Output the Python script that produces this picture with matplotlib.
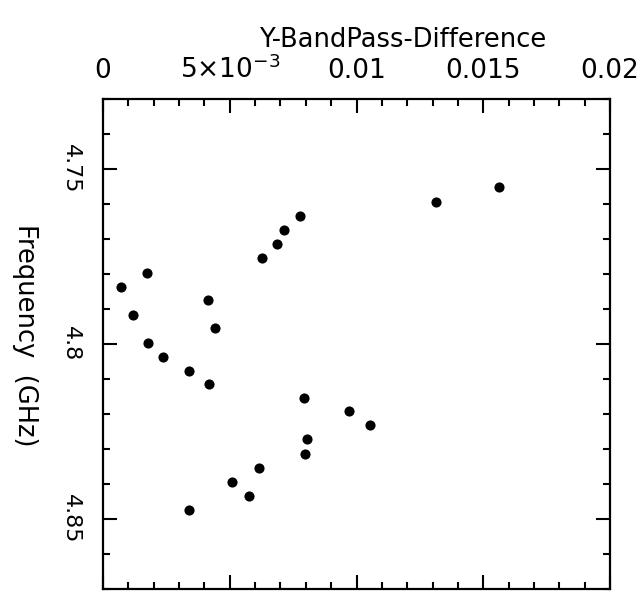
import matplotlib
matplotlib.use("Agg")
import matplotlib.pyplot as plt
from matplotlib.ticker import FixedLocator, MultipleLocator

# Data
frequency_ghz = [4.7552, 4.7593, 4.7634, 4.7674, 4.7714, 4.7753, 4.7797, 4.7837,
                 4.7875, 4.7916, 4.7955, 4.7996, 4.8036, 4.8076, 4.8115, 4.8153,
                 4.8191, 4.8231, 4.8272, 4.8313, 4.8353, 4.8394, 4.8433, 4.8475]
bandpass_diff = [0.01562, 0.01312, 0.00776, 0.00714, 0.00686, 0.00628, 0.00175, 0.00070,
                 0.00415, 0.00120, 0.00442, 0.00179, 0.00237, 0.00339, 0.00418, 0.00792,
                 0.00970, 0.01052, 0.00804, 0.00797, 0.00614, 0.00508, 0.00577, 0.00340]

x_ticks = [0.0, 0.005, 0.01, 0.015, 0.02]
x_tick_labels = ["0", r"$5{\times}10^{-3}$", "0.01", "0.015", "0.02"]
y_ticks = [4.75, 4.80, 4.85]
y_tick_labels = ["4.75", "4.8", "4.85"]

plt.rcParams['font.family'] = ['DejaVu Sans']
plt.rcParams['mathtext.fontset'] = 'dejavusans'

fig = plt.figure(figsize=(6.44, 5.93), dpi=100)
ax = fig.add_axes([103/644, 1 - 589/593, 507/644, 490/593])

ax.plot(bandpass_diff, frequency_ghz, 'o', color='black', markersize=7.3, markeredgewidth=0)

ax.set_xlim(0, 0.02)
ax.set_ylim(4.87, 4.73)

ax.xaxis.set_major_locator(FixedLocator(x_ticks))
ax.xaxis.set_minor_locator(MultipleLocator(0.001))
ax.set_xticklabels(x_tick_labels)
ax.yaxis.set_major_locator(FixedLocator(y_ticks))
ax.yaxis.set_minor_locator(MultipleLocator(0.01))
ax.set_yticklabels(y_tick_labels, rotation=-90, va='center', ha='right')

ax.tick_params(axis='both', which='both', direction='in', top=True, bottom=True,
               left=True, right=True, width=1.5, colors='black')
ax.tick_params(axis='both', which='major', length=10)
ax.tick_params(axis='both', which='minor', length=5)
ax.tick_params(axis='x', which='both', labeltop=True, labelbottom=False, labelsize=19, pad=15)
ax.tick_params(axis='y', which='both', labelleft=True, labelright=False, labelsize=16, pad=16)

for lbl in ax.get_xticklabels():
    lbl.set_verticalalignment('baseline')

for sp in ax.spines.values():
    sp.set_linewidth(1.6)

ax.text((403 - 103) / 507, 1 + (99 - 40) / 490, "Y-BandPass-Difference",
        transform=ax.transAxes, ha='center', va='center', fontsize=18.5)

fig.text(25 / 644, 1 - 335 / 593, "Frequency  (GHz)", rotation=-90,
         ha='center', va='center', fontsize=18.5)

fig.savefig("out.png", dpi=100)
